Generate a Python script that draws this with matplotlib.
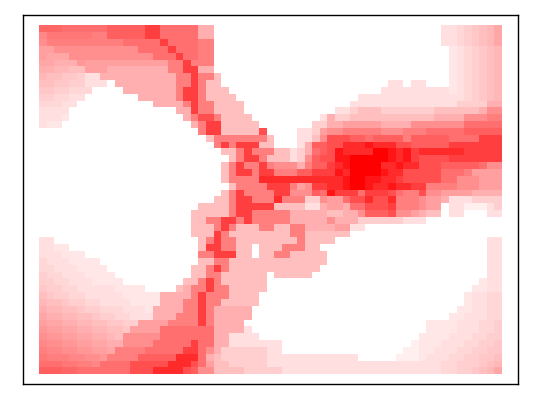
import numpy as np
import matplotlib
matplotlib.use("Agg")
import matplotlib.pyplot as plt
from matplotlib.colors import LinearSegmentedColormap

# density per cell, one character per cell
# 0-9 a-f are whole levels (0 = white, f = pure red), g-p are the half levels 0.5 to 9.5
whole = "0123456789abcdef"
half = "ghijklmnop"
rows = [
    "ppp999999a aaaacc9999 9550000000 0000000000 0000000000 00022i3j4kl",
    "noooooo88a aaaacc9999 9550000000 0000000000 0000000000 00022i3j4kl",
    "7888888888 899999c999 9880000000 0000000000 0000000000 00022i3j4kl",
    "6677777777 7779999c99 9880000000 0000000000 0000000000 0000h2i3j4k",
    "6lll777777 77777999c9 9880000000 0000000000 0000000000 0000h2i3j4k",
    "ll555m6666 666666688c 8880000000 0000000000 0000000000 0000h2i3j4k",
    "55kk446665 555555588c c550000000 0000000000 0000000000 0000h2i3j4k",
    "k44jj32255 5555555588 c884000000 0000000000 0000000000 0000h2i3j4k",
    "44jj332220 5555555588 c844000000 0000000000 0000002202 2000h2i3j4k",
    "jj33iii000 055555558c c844400000 0000000000 0000022222 2222h2i3j4k",
    "33ii220000 000555558c c844440000 0000000000 0022222222 222222i3j4k",
    "iii2200000 0000055558 c884444000 0000000000 0222222222 22222333355",
    "2222000000 0000000055 c884444000 0000000002 2344433333 33444444577",
    "222h000000 0000000005 8bb8444400 0000000253 3444444444 44555577788",
    "2hh0000000 0000000000 58cc444440 0000003355 6666655557 77777799999",
    "0000000000 0000000000 08cc44444b 0000223677 8888877788 899999aaaaa",
    "0000000000 0000000000 0048888888 40002247bb baa9aaaa8a aaaa9999ccc",
    "0000000000 0000000000 0008c8ccc4 400025aabb dddedddbba aaaacccccc c",
    "0000000000 0000000000 0000448c88 8442359abe ddddffedec ddddddcccc c",
    "0000000000 0000000000 0000048cc8 444237abbe efffffedec bbbbcccccc c",
    "0000000000 0000000000 000048c88c 877758aacd effffddedd bbbaaaaa97 7",
    "0000000000 0000000000 000048cc8c c888aaccce dffffeddbb bbb9998666 6",
    "0000000000 0000000000 000048888d dddddddddd effeeddcbb bbb9977766 6",
    "0000000000 0000000000 0000048888 ccc867ccdd effeddeddc c888877766 6",
    "0000000000 0000000000 000048c888 8cc777a9ec cc9cccb988 b776666555 5",
    "0000000000 0000000000 000448cc88 8d88833766 9bbdbbd888 7665222333 3",
    "0000000000 0000000000 044448cccc c444422566 599bbbc888 7660221112 3",
    "0000000000 0000000000 444448cc88 8885555544 557aaab776 5440220002 2",
    "0000000000 0000000000 4488cc8c88 8885555575 5533333322 2000000000 0",
    "0000000000 0000000000 4448c84448 8448855556 6220000000 0000000000 0",
    "0000000000 0000000000 444c844444 4448844444 4000000000 0000000000 0",
    "2200000000 0000000000 048c884444 4444844440 0000000000 0000000002 2",
    "22hh000000 0000000000 04cc884404 4488844000 0000000000 0000000002 2",
    "222hhh0000 0000000000 088ccc4404 4884444400 0000000000 0000000002 2",
    "i222hhhh00 0000000000 0448844444 4444444400 0000000000 0000000002 2",
    "ii222hhhh0 0000000000 448c844444 4444444000 0000000000 0000000002 2",
    "3ii222hhhh 0000000000 4488444444 0444440000 0000000000 0000000002 2",
    "33ii222hhh h000000004 48c8444444 0000000000 0000000000 00000000h22",
    "j33ii22222 hhhh000045 88c8844444 0000000000 0000000000 0000000hh22",
    "4j33ii2222 2hhhhh5555 8c88844440 0000000000 0000000000 000000h22ii",
    "k44j33ii22 22hhhh5558 8c88444440 0000000000 0000000000 000000h22ii",
    "5kk44j33ii i222h55558 8c85555500 0000000000 0000000000 00000hh22ii",
    "l55kk44j33 ii22255588 8c85555500 0000000000 0000000000 0000hh222ii",
    "6ll55kk44j j336666888 8c85555000 0000000000 0000000000 0hhhh222ii3",
    "m66ll55kk4 4j66669999 9995555200 0000000000 0000000000 0hhhh222ii3",
    "7mm66ll55k 4777779999 9995522220 0000000000 0000000000 hhhh222ii33",
    "n77mm66ll5 5777799999 c995522222 2200000000 0000000001 hhh222ii33j",
    "8nn77mm66l 888899999c c975333333 2200000000 0000000011 hh222ii33jj",
    "o888nn77m8 888aaaaadd d954333333 2222222222 2200000111 h222ii33jj4",
    "999oo88n99 99bbbbbddd b964433333 2222222222 2222222222 222ii333j4k",
    "aaapp99999 99bbbddddb a774444333 3322222222 2222222222 222ii33j4kl",
]

def level(c):
    if c in whole:
        return whole.index(c)
    return half.index(c) + 0.5

data = []
for r in rows:
    r = r.replace(" ", "")
    if len(r) != 61:
        print("bad row", len(r), r)
    data.append([level(c) for c in r[:61].ljust(61, "0")])
data = np.array(data)

cmap = LinearSegmentedColormap.from_list("wr", ["#ffffff", "#ff0000"])
shade = np.interp(data, [0, 12, 15], [0, 0.75, 1])

fig = plt.figure(figsize=(5.4, 4), dpi=100)
ax = fig.add_axes([22.7 / 540, 15.7 / 400, 495.3 / 540, 369 / 400])
ax.pcolormesh(np.arange(62), np.arange(len(rows) + 1), shade, cmap=cmap, vmin=0, vmax=1, antialiased=False)
ax.set_xlim(-2.15, 63.1)
ax.set_ylim(len(rows) + 1.46, -1.46)
ax.set_xticks([])
ax.set_yticks([])
for s in ax.spines.values():
    s.set_linewidth(1.0)
fig.savefig("out.png", dpi=100)
